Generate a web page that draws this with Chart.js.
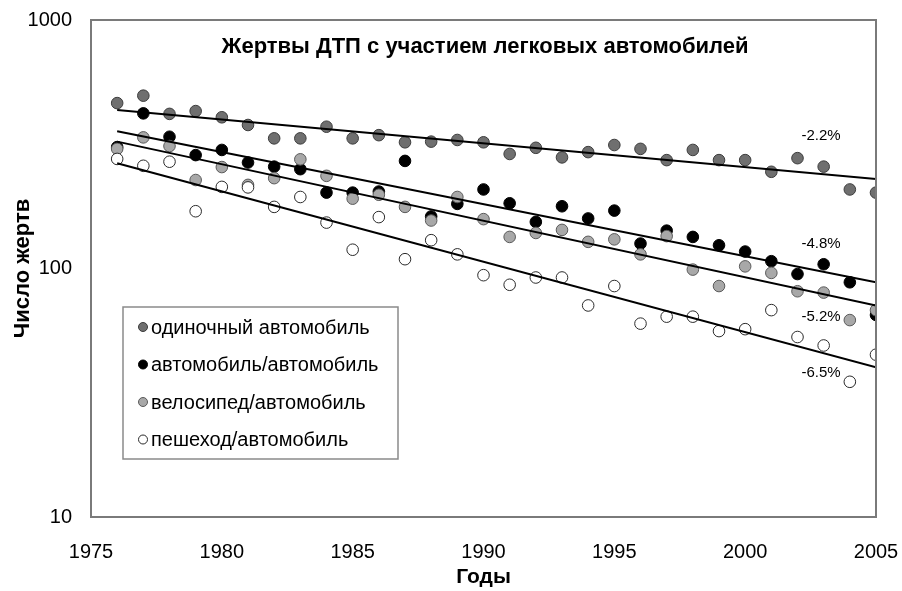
<!DOCTYPE html>
<html>
<head>
<meta charset="utf-8">
<script src="https://cdn.jsdelivr.net/npm/chart.js@4.4.1/dist/chart.umd.min.js"></script>
<style>
    html, body { margin: 0; padding: 0; background: #fff; }
    #wrap { width: 902px; height: 591px; }
</style>
</head>
<body>
<div id="wrap"><canvas id="chart"></canvas></div>
<script>
// Data
const years = [1976, 1977, 1978, 1979, 1980, 1981, 1982, 1983, 1984, 1985,
               1986, 1987, 1988, 1989, 1990, 1991, 1992, 1993, 1994, 1995,
               1996, 1997, 1998, 1999, 2000, 2001, 2002, 2003, 2004, 2005];

const seriesNames = ['одиночный автомобиль', 'автомобиль/автомобиль', 'велосипед/автомобиль', 'пешеход/автомобиль'];

const singleCar = [463, 496, 419, 430, 406, 378, 334, 334, 372, 334, 344, 322, 324, 329, 322, 289, 306, 280, 294, 314, 303, 273, 300, 273, 273, 245, 278, 257, 208, 202];
const carCar    = [308, 421, 339, 286, 300, 267, 257, 251, 202, 202, 204, 271, 162, 182, 208, 183, 154, 178, 159, 171, 126, 142, 134, 124, 117, 107, 95, 104, 88, 65];
const bikeCar   = [303, 337, 311, 227, 256, 217, 231, 275, 236, 191, 198, 177, 156, 194, 158, 134, 139, 143, 128, 131, 114, 135, 99, 85, 102, 96, 81, 80, 62, 68];
const pedCar    = [276, 259, 269, 170, 213, 212, 177, 194, 153, 119, 161, 109, 130, 114, 94, 86, 92, 92, 71, 85, 60, 64, 64, 56, 57, 68, 53, 49, 35, 45];

// trend lines: value at first and last year
const trendYears = [1976, 2005];
const trendStart = [434, 357, 324, 265];
const trendEnd   = [229, 88, 71, 40];

const trendLabels = ['-2.2%', '-4.8%', '-5.2%', '-6.5%'];
const trendLabelYear = 2002.9;
const trendLabelValues = [341, 126, 64, 38];

const yTicks = [10, 100, 1000];
const xTicks = [1975, 1980, 1985, 1990, 1995, 2000, 2005];

const FONT = '"Liberation Sans", Arial, sans-serif';
const styles = [
    { fill: '#6f6f6f', border: '#3c3c3c' },
    { fill: '#000000', border: '#000000' },
    { fill: '#a8a8a8', border: '#5a5a5a' },
    { fill: '#ffffff', border: '#2a2a2a' }
];

const seriesValues = [singleCar, carCar, bikeCar, pedCar];

const pointSets = seriesValues.map((vals, i) => ({
    type: 'scatter',
    label: seriesNames[i],
    data: years.map((yr, k) => ({ x: yr, y: vals[k] })),
    backgroundColor: styles[i].fill,
    borderColor: styles[i].border,
    borderWidth: 1,
    pointRadius: 5.8,
    pointHoverRadius: 5.8,
    order: 4 - i
}));

const lineSets = trendStart.map((v, i) => ({
    type: 'line',
    label: 'trend ' + i,
    data: [{ x: trendYears[0], y: v }, { x: trendYears[1], y: trendEnd[i] }],
    borderColor: '#000',
    borderWidth: 2,
    pointRadius: 0,
    fill: false,
    order: 0
}));

// frame, title, legend box and trend percentages
const decorations = {
    id: 'decorations',
    afterDatasetsDraw(chart) {
        const { ctx, chartArea: a, scales } = chart;
        ctx.save();

        ctx.fillStyle = '#000';
        ctx.font = 'bold 22px ' + FONT;
        ctx.textAlign = 'center';
        ctx.textBaseline = 'middle';
        ctx.fillText('Жертвы ДТП с участием легковых автомобилей', 485, 47);

        ctx.font = '15px ' + FONT;
        trendLabels.forEach((t, i) => {
            ctx.fillText(t, scales.x.getPixelForValue(trendLabelYear), scales.y.getPixelForValue(trendLabelValues[i]));
        });

        // legend
        ctx.fillStyle = '#fff';
        ctx.fillRect(123, 307, 275, 152);
        ctx.strokeStyle = '#8a8a8a';
        ctx.lineWidth = 1.5;
        ctx.strokeRect(123, 307, 275, 152);
        ctx.font = '20px ' + FONT;
        ctx.textAlign = 'left';
        seriesNames.forEach((name, i) => {
            const y = 327 + i * 37.5;
            ctx.beginPath();
            ctx.arc(143, y, 4.5, 0, Math.PI * 2);
            ctx.fillStyle = styles[i].fill;
            ctx.fill();
            ctx.strokeStyle = styles[i].border;
            ctx.lineWidth = 1;
            ctx.stroke();
            ctx.fillStyle = '#000';
            ctx.fillText(name, 151, y + 1);
        });

        ctx.strokeStyle = '#7a7a7a';
        ctx.lineWidth = 2;
        ctx.strokeRect(a.left, a.top, a.right - a.left, a.bottom - a.top);
        ctx.restore();
    }
};

new Chart(document.getElementById('chart'), {
    data: { datasets: [...lineSets, ...pointSets] },
    options: {
        responsive: true,
        maintainAspectRatio: false,
        animation: false,
        layout: { padding: { top: 20, right: 26, bottom: 0, left: 0 } },
        plugins: { legend: { display: false }, tooltip: { enabled: false } },
        scales: {
            x: {
                type: 'linear',
                min: 1975,
                max: 2005,
                afterFit: s => { s.height = 74; s.paddingLeft = 0; s.paddingRight = 0; },
                afterBuildTicks: s => { s.ticks = xTicks.map(v => ({ value: v })); },
                grid: { display: false },
                border: { display: false },
                ticks: { color: '#000', padding: 15, font: { family: FONT, size: 20 }, callback: v => String(v) },
                title: { display: true, text: 'Годы', color: '#000', padding: { top: 0, bottom: 1 }, font: { family: FONT, size: 21, weight: 'bold' } }
            },
            y: {
                type: 'logarithmic',
                min: 10,
                max: 1000,
                afterFit: s => { s.width = 91; s.paddingTop = 0; s.paddingBottom = 0; },
                afterBuildTicks: s => { s.ticks = yTicks.map(v => ({ value: v })); },
                grid: { display: false },
                border: { display: false },
                ticks: { color: '#000', padding: 11, font: { family: FONT, size: 20 }, callback: v => String(v) },
                title: { display: true, text: 'Число жертв', color: '#000', padding: { top: 10, bottom: 0 }, font: { family: FONT, size: 22, weight: 'bold' } }
            }
        }
    },
    plugins: [decorations]
});
</script>
</body>
</html>
